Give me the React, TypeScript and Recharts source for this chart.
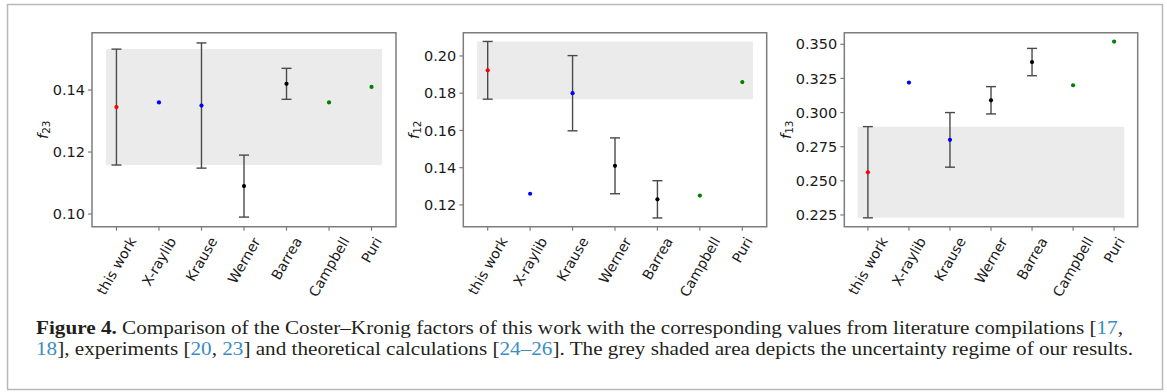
import React from "react";
import {
  ScatterChart,
  Scatter,
  XAxis,
  YAxis,
  ErrorBar,
  ReferenceArea,
} from "recharts";

const categories = [
  "this work",
  "X-raylib",
  "Krause",
  "Werner",
  "Barrea",
  "Campbell",
  "Puri",
];
const pointColors = [
  "#ff0000",
  "#0000ff",
  "#0000ff",
  "#000000",
  "#000000",
  "#008000",
  "#008000",
];

const f23Values = [0.1345, 0.136, 0.135, 0.109, 0.142, 0.136, 0.141];
const f23Errors = [0.0187, null, 0.0202, 0.01, 0.005, null, null];
const f12Values = [0.1923, 0.126, 0.18, 0.141, 0.123, 0.125, 0.186];
const f12Errors = [0.0155, null, 0.0202, 0.015, 0.01, null, null];
const f13Values = [0.2563, 0.322, 0.28, 0.309, 0.337, 0.32, 0.352];
const f13Errors = [0.0334, null, 0.02, 0.01, 0.01, null, null];

const f23Ticks = [0.1, 0.12, 0.14];
const f12Ticks = [0.12, 0.14, 0.16, 0.18, 0.2];
const f13Ticks = [0.225, 0.25, 0.275, 0.3, 0.325, 0.35];

const xTicks = [0, 1, 2, 3, 4, 5, 6];

// DejaVu Sans advance widths (em) for the label glyphs
const charW: Record<string, number> = {
  " ": 0.318, "-": 0.361, B: 0.686, C: 0.698, K: 0.656, P: 0.603, W: 0.989,
  X: 0.686, a: 0.613, b: 0.635, e: 0.615, h: 0.634, i: 0.278, k: 0.579,
  l: 0.278, m: 0.974, n: 0.634, o: 0.612, p: 0.635, r: 0.411, s: 0.521,
  t: 0.392, u: 0.634, w: 0.818, y: 0.592,
};
const textWidth = (s: string, size: number) =>
  s.split("").reduce((a, c) => a + (charW[c] ?? 0.6), 0) * size;

const FONT = "'DejaVu Sans', sans-serif";
const SPINE = "#7d7d7d";
const TEXT = "#1a1a1a";

const TiltedTick = (props: any) => {
  const { x, y, payload } = props;
  const label = categories[payload.value] ?? "";
  const size = 14;
  const L = textWidth(label, size);
  const H = L * Math.sin(Math.PI / 3) + size * Math.cos(Math.PI / 3);
  const cy = y + H / 2;
  return (
    <text
      x={x}
      y={cy}
      textAnchor="middle"
      dominantBaseline="central"
      transform={`rotate(-60 ${x} ${cy})`}
      fontFamily={FONT}
      fontSize={size}
      fill={TEXT}
    >
      {label}
    </text>
  );
};

const YLabel = ({ cx, cy, sub }: { cx: number; cy: number; sub: string }) => (
  <text
    x={cx}
    y={cy}
    textAnchor="middle"
    dominantBaseline="central"
    transform={`rotate(-90 ${cx} ${cy})`}
    fontFamily={FONT}
    fontSize={14.5}
    fill={TEXT}
  >
    <tspan fontStyle="italic">f</tspan>
    <tspan fontSize={10.5} dy={3}>
      {sub}
    </tspan>
  </text>
);

interface PanelProps {
  values: number[];
  errors: (number | null)[];
  ticks: number[];
  domain: [number, number];
  decimals: number;
  sub: string;
  left: number;
  width: number;
  yAxisWidth: number;
  marginRight: number;
  labelGap: number;
}

const HEIGHT = 310;
const TOP = 32.7;
const PLOT_BOTTOM = 226.7;

const Panel: React.FC<PanelProps> = ({
  values,
  errors,
  ticks,
  domain,
  decimals,
  sub,
  left,
  width,
  yAxisWidth,
  marginRight,
  labelGap,
}) => {
  const data = values.map((v, i) => ({
    x: i,
    y: v,
    err: errors[i],
    color: pointColors[i],
  }));
  const ownErr = errors[0] as number;
  return (
    <div style={{ position: "absolute", left, top: 0 }}>
      <ScatterChart
        width={width}
        height={HEIGHT}
        margin={{ top: TOP, right: marginRight, bottom: 0, left: 0 }}
      >
        <ReferenceArea
          x1={-0.25}
          x2={6.25}
          y1={values[0] - ownErr}
          y2={values[0] + ownErr}
          fill="#ebebeb"
          fillOpacity={1}
          stroke="none"
        />
        <XAxis
          type="number"
          dataKey="x"
          domain={[-0.575, 6.575]}
          allowDataOverflow
          ticks={xTicks}
          interval={0}
          height={HEIGHT - PLOT_BOTTOM}
          axisLine={false}
          tickLine={{ stroke: SPINE, strokeWidth: 1.2 }}
          tickSize={4}
          tickMargin={4}
          tick={<TiltedTick />}
        />
        <YAxis
          type="number"
          dataKey="y"
          domain={domain}
          allowDataOverflow
          ticks={ticks}
          interval={0}
          width={yAxisWidth}
          axisLine={false}
          tickLine={{ stroke: SPINE, strokeWidth: 1.2 }}
          tickSize={4}
          tickMargin={3}
          tickFormatter={(v: number) => v.toFixed(decimals)}
          tick={{ fontFamily: FONT, fontSize: 14.5, fill: TEXT }}
          label={
            <YLabel
              cx={yAxisWidth - labelGap}
              cy={TOP + (PLOT_BOTTOM - TOP) / 2}
              sub={sub}
            />
          }
        />
        <Scatter
          data={data}
          isAnimationActive={false}
          shape={(p: any) => (
            <circle cx={p.cx} cy={p.cy} r={2.1} fill={p.payload.color} />
          )}
        >
          <ErrorBar
            dataKey="err"
            direction="y"
            width={5}
            stroke="#4a4a4a"
            strokeWidth={1.4}
            isAnimationActive={false}
          />
        </Scatter>
        <ReferenceArea
          x1={-0.575}
          x2={6.575}
          y1={domain[0]}
          y2={domain[1]}
          fill="none"
          stroke={SPINE}
          strokeWidth={1.5}
          ifOverflow="visible"
        />
      </ScatterChart>
    </div>
  );
};

const BLUE = "#3a8dc1";

const Caption = () => (
  <svg
    width={1167}
    height={392}
    style={{ position: "absolute", left: 0, top: 0 }}
  >
    <rect
      x={7.5}
      y={4.5}
      width={1155}
      height={385}
      fill="none"
      stroke="#b9b9b9"
      strokeWidth={1.5}
    />
    <text
      x={36}
      y={334}
      textLength={1087}
      lengthAdjust="spacingAndGlyphs"
      fontFamily="'Liberation Serif', serif"
      fontSize={19.5}
      fill="#231f20"
    >
      <tspan fontWeight="bold">Figure 4.</tspan>
      {" Comparison of the Coster–Kronig factors of this work with the corresponding values from literature compilations ["}
      <tspan fill={BLUE}>17</tspan>
      {","}
    </text>
    <text
      x={36}
      y={355}
      textLength={1097}
      lengthAdjust="spacingAndGlyphs"
      fontFamily="'Liberation Serif', serif"
      fontSize={19.5}
      fill="#231f20"
    >
      <tspan fill={BLUE}>18</tspan>
      {"], experiments ["}
      <tspan fill={BLUE}>20</tspan>
      {", "}
      <tspan fill={BLUE}>23</tspan>
      {"] and theoretical calculations ["}
      <tspan fill={BLUE}>24–26</tspan>
      {"]. The grey shaded area depicts the uncertainty regime of our results."}
    </text>
  </svg>
);

export default function App() {
  return (
    <div
      style={{
        position: "absolute",
        left: 0,
        top: 0,
        width: 1167,
        height: 392,
        background: "#fff",
        overflow: "hidden",
      }}
    >
      <Caption />
      <Panel
        values={f23Values}
        errors={f23Errors}
        ticks={f23Ticks}
        domain={[0.0959, 0.1585]}
        decimals={2}
        sub="23"
        left={0}
        width={400}
        yAxisWidth={92}
        marginRight={4}
        labelGap={48.5}
      />
      <Panel
        values={f12Values}
        errors={f12Errors}
        ticks={f12Ticks}
        domain={[0.1083, 0.2125]}
        decimals={2}
        sub="12"
        left={400}
        width={370}
        yAxisWidth={63.3}
        marginRight={3.3}
        labelGap={49.3}
      />
      <Panel
        values={f13Values}
        errors={f13Errors}
        ticks={f13Ticks}
        domain={[0.2164, 0.3585]}
        decimals={3}
        sub="13"
        left={770}
        width={395}
        yAxisWidth={74.3}
        marginRight={27.3}
        labelGap={58}
      />
    </div>
  );
}
